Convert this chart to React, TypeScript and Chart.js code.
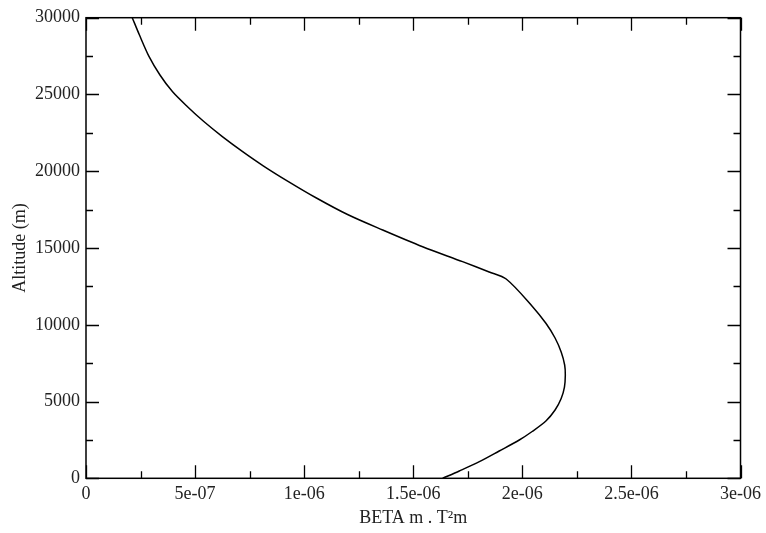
import React, { useEffect, useRef } from "react";
import { Chart, registerables } from "chart.js";

Chart.register(...registerables);

// Profile: BETA value (x) vs altitude in metres (y)
const betaValues = [
  0.212e-6, 0.245e-6, 0.288e-6, 0.339e-6, 0.396e-6, 0.464e-6, 0.54e-6, 0.625e-6,
  0.718e-6, 0.814e-6, 0.924e-6, 1.052e-6, 1.199e-6, 1.36e-6, 1.543e-6, 1.726e-6,
  1.848e-6, 1.926e-6, 2.047e-6, 2.108e-6, 2.15e-6, 2.178e-6, 2.194e-6, 2.197e-6,
  2.193e-6, 2.178e-6, 2.15e-6, 2.108e-6, 2.045e-6, 1.986e-6, 1.894e-6, 1.803e-6,
  1.711e-6, 1.635e-6,
];
const altitudes = [
  30000, 28870, 27500, 26270, 25190, 24220, 23240, 22260,
  21280, 20340, 19360, 18290, 17180, 16170, 15080, 14110,
  13440, 12980, 11180, 10095, 9138, 8226, 7379, 6728,
  5946, 5197, 4448, 3732, 3048, 2494, 1778, 1081,
  475, 0,
];

const xTickValues = [0, 5e-7, 1e-6, 1.5e-6, 2e-6, 2.5e-6, 3e-6];
const xTickLabels = ["0", "5e-07", "1e-06", "1.5e-06", "2e-06", "2.5e-06", "3e-06"];
const xMinorValues = [2.5e-7, 7.5e-7, 1.25e-6, 1.75e-6, 2.25e-6, 2.75e-6];
const yTickValues = [0, 5000, 10000, 15000, 20000, 25000, 30000];
const yTickLabels = ["0", "5000", "10000", "15000", "20000", "25000", "30000"];
const yMinorValues = [2500, 7500, 12500, 17500, 22500, 27500];

const xTitle = "BETA m . T\u00B2m";
const yTitle = "Altitude (m)";

const FONT = "'Liberation Serif', 'DejaVu Serif', serif";

export default function App() {
  const ref = useRef<HTMLCanvasElement | null>(null);

  useEffect(() => {
    document.body.style.margin = "0";
    const canvas = ref.current;
    if (!canvas) return;

    const tickPlugin = {
      id: "graceTicks",
      afterDraw(chart: any) {
        const { ctx, chartArea } = chart;
        const xs = chart.scales.x;
        const ys = chart.scales.y;
        const { left, right, top, bottom } = chartArea;
        ctx.save();
        ctx.strokeStyle = "#000";
        ctx.lineWidth = 1.3;
        ctx.beginPath();
        const major = 13;
        const minor = 7;
        const xt = (vals: number[], len: number) => {
          vals.forEach((v) => {
            const px = Math.round(xs.getPixelForValue(v)) + 0.5;
            ctx.moveTo(px, bottom);
            ctx.lineTo(px, bottom - len);
            ctx.moveTo(px, top);
            ctx.lineTo(px, top + len);
          });
        };
        const yt = (vals: number[], len: number) => {
          vals.forEach((v) => {
            const py = Math.round(ys.getPixelForValue(v)) + 0.5;
            ctx.moveTo(left, py);
            ctx.lineTo(left + len, py);
            ctx.moveTo(right, py);
            ctx.lineTo(right - len, py);
          });
        };
        xt(xTickValues, major);
        xt(xMinorValues, minor);
        yt(yTickValues, major);
        yt(yMinorValues, minor);
        ctx.stroke();
        ctx.lineWidth = 1.5;
        ctx.strokeRect(left, top, right - left, bottom - top);
        ctx.restore();
      },
    };

    const chart = new Chart(canvas, {
      type: "scatter",
      data: {
        datasets: [
          {
            data: betaValues.map((b, i) => ({ x: b, y: altitudes[i] })),
            showLine: true,
            borderColor: "#000",
            borderWidth: 1.5,
            pointRadius: 0,
            tension: 0.3,
            fill: false,
          },
        ],
      },
      options: {
        responsive: false,
        animation: false,
        layout: { padding: { left: 0, right: 24.3, top: 17.7, bottom: 0 } },
        plugins: {
          legend: { display: false },
          tooltip: { enabled: false },
        },
        scales: {
          x: {
            type: "linear",
            min: 0,
            max: 3e-6,
            grid: { display: false, drawTicks: false },
            border: { display: false },
            afterBuildTicks: (scale: any) => {
              scale.ticks = xTickValues.map((v) => ({ value: v }));
            },
            afterFit: (scale: any) => {
              scale.height = 533 - 478.3;
            },
            ticks: {
              autoSkip: false,
              maxRotation: 0,
              minRotation: 0,
              padding: 5,
              color: "#222",
              font: { family: FONT, size: 18 },
              callback: (_v: any, i: number) => xTickLabels[i],
            },
            title: {
              display: true,
              text: xTitle,
              color: "#222",
              font: { family: FONT, size: 18 },
              padding: { top: 0, bottom: 4 },
            },
          },
          y: {
            type: "linear",
            min: 0,
            max: 30000,
            grid: { display: false, drawTicks: false },
            border: { display: false },
            afterBuildTicks: (scale: any) => {
              scale.ticks = yTickValues.map((v) => ({ value: v }));
            },
            afterFit: (scale: any) => {
              scale.width = 86;
            },
            ticks: {
              autoSkip: false,
              padding: 6,
              color: "#222",
              font: { family: FONT, size: 18 },
              callback: (_v: any, i: number) => yTickLabels[i],
            },
            title: {
              display: true,
              text: yTitle,
              color: "#222",
              font: { family: FONT, size: 18 },
              padding: { top: 9, bottom: 0 },
            },
          },
        },
      },
      plugins: [tickPlugin],
    });

    return () => chart.destroy();
  }, []);

  return (
    <div style={{ position: "absolute", left: 0, top: 0, width: 766, height: 533, background: "#fff" }}>
      <canvas ref={ref} width={766} height={533} />
    </div>
  );
}
